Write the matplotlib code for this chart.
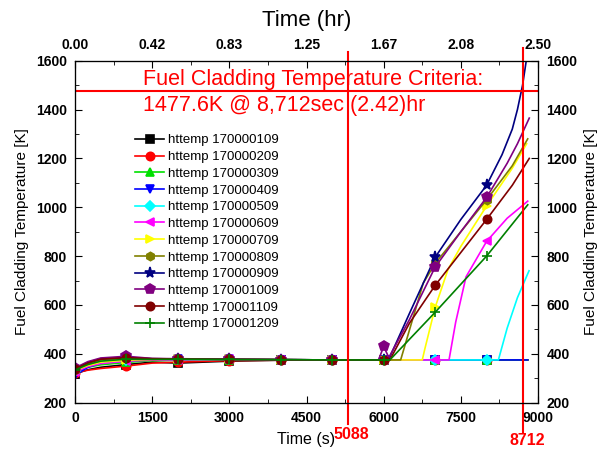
import matplotlib
matplotlib.use("Agg")
import matplotlib.pyplot as plt

plt.rcParams["font.family"] = ["Liberation Sans", "DejaVu Sans"]

# ---------------------------
# Data
# ---------------------------

TIME_EARLY = [0, 250, 500, 1000, 1500, 2000, 3000, 4000, 5000, 5900, 6000]

t_109 = TIME_EARLY + [7000, 8000, 8800]
T_109 = [318, 335, 345, 356, 366, 362, 370, 374, 375, 375, 375, 375, 375, 375]

t_209 = TIME_EARLY + [7000, 8000, 8800]
T_209 = [322, 333, 340, 350, 362, 366, 372, 374, 375, 375, 375, 375, 375, 375]

t_309 = TIME_EARLY + [7000, 8000, 8800]
T_309 = [328, 345, 355, 365, 372, 374, 376, 376, 375, 375, 375, 375, 375, 375]

t_409 = TIME_EARLY + [7000, 8000, 8800]
T_409 = [312, 345, 362, 372, 376, 377, 377, 376, 375, 375, 375, 375, 375, 375]

t_509 = TIME_EARLY + [7000, 8000, 8230, 8400, 8600, 8825]
T_509 = [330, 350, 365, 373, 376, 377, 377, 376, 375, 375, 375, 375, 375, 375, 505, 630, 740]

t_609 = TIME_EARLY + [7000, 7270, 7400, 7600, 8000, 8400, 8800]
T_609 = [326, 348, 360, 370, 374, 376, 377, 376, 375, 375, 375, 375, 375, 530, 715, 860, 955, 1025]

t_709 = TIME_EARLY + [6750, 6800, 7000, 7250, 7500, 8000, 8500, 8780]
T_709 = [332, 352, 366, 374, 377, 378, 377, 376, 375, 375, 375, 375, 420, 590, 745, 840, 1005, 1160, 1260]

t_809 = TIME_EARLY + [6330, 6770, 7000, 7500, 8000, 8500, 8800]
T_809 = [335, 360, 375, 382, 379, 379, 377, 376, 375, 375, 375, 375, 690, 770, 900, 1030, 1170, 1280]

t_909 = TIME_EARLY + [6100, 6500, 7000, 7500, 8000, 8300, 8500, 8600, 8700, 8800]
T_909 = [340, 365, 380, 385, 380, 379, 377, 376, 375, 375, 375, 378, 565, 795, 950, 1090, 1215, 1320, 1400, 1500, 1640]

t_1009 = TIME_EARLY + [6100, 6500, 7000, 7500, 8000, 8400, 8600, 8830]
T_1009 = [342, 368, 383, 390, 381, 380, 378, 376, 375, 375, 430, 385, 540, 755, 900, 1040, 1180, 1260, 1365]

t_1109 = TIME_EARLY + [6120, 6500, 7000, 7500, 8000, 8500, 8830]
T_1109 = [338, 362, 378, 384, 380, 379, 377, 376, 375, 375, 375, 375, 525, 680, 815, 950, 1090, 1200]

t_1209 = TIME_EARLY + [6120, 7000, 8000, 8800]
T_1209 = [334, 356, 370, 378, 377, 378, 377, 376, 375, 375, 375, 375, 570, 800, 1010]

labels = ["httemp 170000109", "httemp 170000209", "httemp 170000309",
          "httemp 170000409", "httemp 170000509", "httemp 170000609",
          "httemp 170000709", "httemp 170000809", "httemp 170000909",
          "httemp 170001009", "httemp 170001109", "httemp 170001209"]
times = [t_109, t_209, t_309, t_409, t_509, t_609, t_709, t_809, t_909, t_1009, t_1109, t_1209]
temps = [T_109, T_209, T_309, T_409, T_509, T_609, T_709, T_809, T_909, T_1009, T_1109, T_1209]

colors = ["#000000", "#ff0000", "#00e000", "#0000ff", "#00ffff", "#ff00ff",
          "#ffff00", "#808000", "#000080", "#800080", "#800000", "#008000"]
markers = ["s", "o", "^", "v", "D", "<", ">", "h", "*", "p", "o", "+"]
msizes = [6, 6, 6, 6, 5, 6, 6, 6, 8, 7, 6, 7]

criteria_temp = 1477.6
line_5088 = 5300   # where the line sits in the picture
line_8712 = 8712

# ---------------------------
# Plot
# ---------------------------

fig = plt.figure(figsize=(6, 4.59), dpi=100)
ax = fig.add_axes([0.125, 0.1227, 0.7717, 0.7451])

for t, T, lab, c, m, ms in zip(times, temps, labels, colors, markers, msizes):
    marks = [i for i, v in enumerate(t) if v % 1000 == 0 and v <= 8000]
    ax.plot(t, T, color=c, marker=m, markersize=ms, markevery=marks,
            lw=1.2, label=lab, mew=1.2)

ax.set_xlim(0, 9000)
ax.set_ylim(200, 1600)
ax.set_xticks(range(0, 9001, 1500))
ax.set_yticks(range(200, 1601, 200))
ax.set_xticks(range(750, 9000, 1500), minor=True)
ax.set_yticks(range(300, 1600, 200), minor=True)
ax.set_xticklabels([str(v) for v in range(0, 9001, 1500)], fontweight="bold")
ax.set_yticklabels([str(v) for v in range(200, 1601, 200)], fontweight="bold")
ax.tick_params(which="both", direction="in", labelsize=10, pad=6)
ax.tick_params(which="major", length=5)
ax.tick_params(which="minor", length=3)

ax.set_xlabel("Time (s)", fontsize=11.5)
ax.xaxis.set_label_coords(0.5, -0.085)
ax.set_ylabel("Fuel Cladding Temperature [K]", fontsize=11)
ax.yaxis.set_label_coords(-0.1, 0.5)

# top axis in hours
ax_top = ax.twiny()
ax_top.set_xlim(ax.get_xlim())
ax_top.set_xticks(range(0, 9001, 1500))
ax_top.set_xticks(range(750, 9000, 1500), minor=True)
ax_top.set_xticklabels([f"{v / 3600:.2f}" for v in range(0, 9001, 1500)], fontweight="bold")
ax_top.tick_params(which="both", direction="in", labelsize=10, pad=6)
ax_top.tick_params(which="major", length=5)
ax_top.tick_params(which="minor", length=3)
ax_top.set_xlabel("Time (hr)", fontsize=16, labelpad=9)

# right axis
ax_r = ax.twinx()
ax_r.set_ylim(ax.get_ylim())
ax_r.set_yticks(range(200, 1601, 200))
ax_r.set_yticks(range(300, 1600, 200), minor=True)
ax_r.set_yticklabels([str(v) for v in range(200, 1601, 200)], fontweight="bold")
ax_r.tick_params(which="both", direction="in", labelsize=10, pad=6)
ax_r.tick_params(which="major", length=5)
ax_r.tick_params(which="minor", length=3)
ax_r.set_ylabel("Fuel Cladding Temperature [K]", fontsize=11, rotation=90)
ax_r.yaxis.set_label_coords(1.1, 0.5)

# criteria line and annotations
ax.axhline(criteria_temp, color="#ff0000", lw=1.5)
ax.text(1322, 1525, "Fuel Cladding Temperature Criteria:", color="#ff0000",
        fontsize=15.5, va="center")
ax.text(1322, 1418, "1477.6K @ 8,712sec (2.42)hr", color="#ff0000",
        fontsize=15.5, va="center")

xtr = ax.get_xaxis_transform()
ax.plot([line_5088, line_5088], [-0.062, 1.025], color="#ff0000", lw=1.5,
        transform=xtr, clip_on=False)
ax.plot([line_8712, line_8712], [-0.085, 1.037], color="#ff0000", lw=1.5,
        transform=xtr, clip_on=False)
ax.text(5365, -0.092, "5088", color="#ff0000", fontsize=11.5, fontweight="bold",
        ha="center", va="center", transform=xtr)
ax.text(8786, -0.112, "8712", color="#ff0000", fontsize=11.5, fontweight="bold",
        ha="center", va="center", transform=xtr)

ax.legend(loc="upper left", bbox_to_anchor=(0.13, 0.785), frameon=False,
          fontsize=9.5, labelspacing=0.34, handlelength=2.2, handletextpad=0.25,
          borderpad=0, borderaxespad=0)

fig.savefig("out.png", dpi=100)
